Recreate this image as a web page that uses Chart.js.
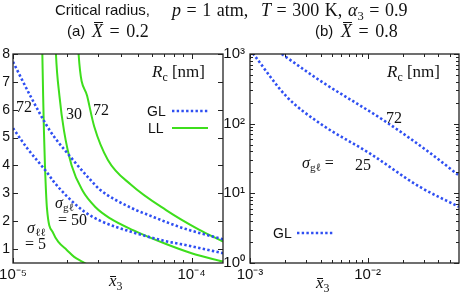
<!DOCTYPE html>
<html>
<head>
<meta charset="utf-8">
<script src="https://cdn.jsdelivr.net/npm/chart.js@4.4.1/dist/chart.umd.min.js"></script>
<style>
  body { margin: 0; background: #fff; }
  #fig { position: relative; width: 460px; height: 294px; overflow: hidden; background: #fff;
         font-family: "Liberation Sans", Arial, sans-serif; color: #111; }
  #fig canvas { position: absolute; top: 0; }
  .t { position: absolute; white-space: nowrap; line-height: 1; }
  .m { font-family: "Liberation Serif", "Times New Roman", serif; }
  .ob { position: relative; font-style: italic; }
  .ob::before { content: ''; position: absolute; left: 2px; right: 0; border-top: 1px solid #111; }
  .ob.cap::before { top: 1px; }
  .ob.low::before { top: 5px; left: 1px; right: 1px; }
  sub { font-size: 70%; vertical-align: -0.3em; line-height: 0; }
</style>
</head>
<body>
<div id="fig">
  <canvas id="cvA" width="232" height="294" style="left:0"></canvas>
  <canvas id="cvB" width="236" height="294" style="left:224px"></canvas>

  <!-- titres -->
  <div class="t" style="left:55px;top:2px;font-size:15px">Critical radius,</div>
  <div class="t m" style="left:172px;top:1px;font-size:18px;word-spacing:1px"><i>p</i> = 1 atm,</div>
  <div class="t m" style="left:261px;top:1px;font-size:18px;word-spacing:1px"><i>T</i> = 300 K,</div>
  <div class="t m" style="left:348px;top:1px;font-size:18px;word-spacing:1px"><i>α</i><sub>3</sub> = 0.9</div>
  <div class="t" style="left:67px;top:23px;font-size:15px">(a)</div>
  <div class="t m" style="left:92px;top:22px;font-size:18px;word-spacing:2px"><span class="ob cap">X</span> = 0.2</div>
  <div class="t" style="left:315px;top:23px;font-size:15px">(b)</div>
  <div class="t m" style="left:341px;top:22px;font-size:18px;word-spacing:2px"><span class="ob cap">X</span> = 0.8</div>

  <!-- panneau (a) -->
  <div class="t m" style="left:152px;top:63px;font-size:17px"><i>R</i><sub>c</sub> [nm]</div>
  <div class="t" style="left:147px;top:104px;font-size:14px">GL</div>
  <div class="t" style="left:148px;top:121px;font-size:14px">LL</div>
  <div class="t m" style="left:16px;top:99px;font-size:16px">72</div>
  <div class="t m" style="left:66px;top:106px;font-size:16px">30</div>
  <div class="t m" style="left:93px;top:102px;font-size:16px">72</div>
  <div class="t m" style="left:55px;top:195px;font-size:16px"><i>σ</i><sub>gℓ</sub></div>
  <div class="t m" style="left:58px;top:212px;font-size:16px">= 50</div>
  <div class="t m" style="left:27px;top:220px;font-size:16px"><i>σ</i><sub>ℓℓ</sub></div>
  <div class="t m" style="left:25px;top:236px;font-size:16px">= 5</div>
  <div class="t m" style="left:109px;top:272px;font-size:17px"><span class="ob low">x</span><sub>3</sub></div>

  <!-- panneau (b) -->
  <div class="t m" style="left:387px;top:63px;font-size:17px"><i>R</i><sub>c</sub> [nm]</div>
  <div class="t m" style="left:386px;top:110px;font-size:16px">72</div>
  <div class="t m" style="left:302px;top:155px;font-size:16px"><i>σ</i><sub>gℓ</sub> =</div>
  <div class="t m" style="left:355px;top:157px;font-size:16px">25</div>
  <div class="t" style="left:273px;top:226px;font-size:14px">GL</div>
  <div class="t m" style="left:316px;top:274px;font-size:17px"><span class="ob low">x</span><sub>3</sub></div>
</div>

<script>
  // ---- (a) X = 0.2 -----------------------------------------------------------
  const xTicksA = [1e-5, 2e-5, 3e-5, 4e-5, 5e-5, 6e-5, 7e-5, 8e-5, 9e-5, 1e-4];
  const yTicksA = [1, 2, 3, 4, 5, 6, 7, 8];

  // GL, sigma_gl = 72 / 50  (pointillés bleus)
  const glA72 = [[1e-5, 7.72], [1.245e-5, 6.52], [1.61e-5, 5.25], [2.09e-5, 4.32], [2.7e-5, 3.5],
                 [3.07e-5, 3.13], [4.52e-5, 2.5], [5.85e-5, 2.2], [8.97e-5, 1.75], [1.5e-4, 1.35]];
  const glA50 = [[1e-5, 5.34], [1.2e-5, 4.62], [1.42e-5, 4.05], [1.55e-5, 3.75], [1.7e-5, 3.4],
                 [2e-5, 2.9], [2.5e-5, 2.35], [3.07e-5, 2.02], [4.7e-5, 1.6], [7e-5, 1.3],
                 [1e-4, 1.1], [1.5e-4, 0.85]];

  // LL, sigma_ll = 5 / 30 / 72  (traits verts)
  const llA5  = [[1.45e-5, 9], [1.46e-5, 8], [1.475e-5, 6.5], [1.49e-5, 5.25], [1.51e-5, 4.0],
                 [1.55e-5, 2.45], [1.68e-5, 1.57], [1.8e-5, 1.25], [2.0e-5, 0.97], [2.2e-5, 0.72],
                 [2.42e-5, 0.56], [2.6e-5, 0.45]];
  const llA30 = [[1.72e-5, 9], [1.74e-5, 8], [1.82e-5, 6.5], [1.93e-5, 5.25], [2.13e-5, 4.0],
                 [2.45e-5, 3.1], [2.9e-5, 2.5], [3.5e-5, 2.1], [4.7e-5, 1.68], [7.2e-5, 1.18],
                 [1e-4, 0.85], [1.5e-4, 0.55]];
  const llA72 = [[2.3e-5, 9], [2.33e-5, 8], [2.6e-5, 6.5], [2.85e-5, 5.4], [3.4e-5, 4.2],
                 [4.6e-5, 3.3], [7.2e-5, 2.4], [1.1e-4, 1.7], [1.5e-4, 1.27]];

  // ---- (b) X = 0.8 -----------------------------------------------------------
  const xTicksB = [1e-3, 2e-3, 3e-3, 4e-3, 5e-3, 6e-3, 7e-3, 8e-3, 9e-3, 1e-2, 2e-2, 3e-2, 4e-2, 5e-2];
  const yTicksB = [1, 2, 3, 4, 5, 6, 7, 8, 9, 10, 20, 30, 40, 50, 60, 70, 80, 90,
                   100, 200, 300, 400, 500, 600, 700, 800, 900, 1000];

  const glB72 = [[1.6e-3, 1190], [1.86e-3, 1000], [3.9e-3, 420], [0.0145, 105], [0.034, 38], [0.06, 18]];
  const glB25 = [[1e-3, 1150], [1.067e-3, 1000], [2.05e-3, 244], [3.93e-3, 101], [0.01046, 37.4],
                 [0.0278, 12.4], [0.06, 6.4]];

  const SANS = '"Liberation Sans", Arial, sans-serif';
  const GL_STYLE = { borderColor: '#2f4ff2', borderWidth: 2.6, borderDash: [2.4, 2.3] };
  const LL_STYLE = { borderColor: '#3ede1c', borderWidth: 2 };
  const SUP = { '-': '⁻', '0': '⁰', '1': '¹', '2': '²', '3': '³', '4': '⁴', '5': '⁵', '6': '⁶', '7': '⁷', '8': '⁸', '9': '⁹' };

  const isDecade = v => Math.abs(Math.log10(v) - Math.round(Math.log10(v))) < 1e-6;
  const powLabel = v => '10' + String(Math.round(Math.log10(v))).split('').map(c => SUP[c]).join('');

  function serie(pts, style) {
    return Object.assign({
      data: pts.map(([x, y]) => ({ x, y })),
      pointRadius: 0, fill: false, clip: 0,
      cubicInterpolationMode: 'monotone',
    }, style);
  }

  function axe(type, min, max, tickVals, horiz, size, pad, fontSize) {
    return {
      type, min, max,
      grid: { display: false, drawTicks: false },
      border: { display: false },
      afterBuildTicks: s => { s.ticks = tickVals.map(v => ({ value: v })); },
      afterFit: s => {
        if (horiz) s.height = size; else s.width = size;
        s.paddingLeft = s.paddingRight = s.paddingTop = s.paddingBottom = 0;
      },
      ticks: {
        autoSkip: false, maxRotation: 0, padding: pad, color: '#111',
        font: { family: SANS, size: fontSize },
        callback: v => type === 'logarithmic' ? (isDecade(v) ? powLabel(v) : '') : String(v),
      },
    };
  }

  // cadre + graduations intérieures sur les 4 côtés, et échantillons de légende
  const cadre = {
    id: 'cadre',
    afterDraw(chart, args, opts) {
      const { ctx, chartArea: a, scales } = chart;
      ctx.save();
      ctx.strokeStyle = '#222';
      ctx.lineWidth = 1;
      ['x', 'y'].forEach(k => {
        const s = scales[k];
        s.ticks.forEach(t => {
          const major = s.type !== 'logarithmic' || isDecade(t.value);
          const len = major ? 5 : 3;
          const p = Math.round(s.getPixelForValue(t.value)) + 0.5;
          ctx.beginPath();
          if (k === 'x') {
            ctx.moveTo(p, a.bottom); ctx.lineTo(p, a.bottom - len);
            ctx.moveTo(p, a.top); ctx.lineTo(p, a.top + len);
          } else {
            ctx.moveTo(a.left, p); ctx.lineTo(a.left + len, p);
            ctx.moveTo(a.right, p); ctx.lineTo(a.right - len, p);
          }
          ctx.stroke();
        });
      });
      ctx.lineWidth = 1.3;
      ctx.strokeRect(a.left, a.top, a.right - a.left, a.bottom - a.top);

      (opts.legende || []).forEach(l => {
        const ds = chart.data.datasets[l.ds];
        ctx.beginPath();
        ctx.strokeStyle = ds.borderColor;
        ctx.lineWidth = ds.borderWidth;
        ctx.setLineDash(ds.borderDash || []);
        ctx.moveTo(l.x1, l.y); ctx.lineTo(l.x2, l.y);
        ctx.stroke();
      });
      ctx.restore();
    },
  };

  function options(xAxis, yAxis, pad, legende) {
    return {
      responsive: false, animation: false, devicePixelRatio: 1,
      layout: { padding: pad },
      plugins: { legend: { display: false }, tooltip: { enabled: false }, cadre: { legende } },
      scales: { x: xAxis, y: yAxis },
    };
  }

  new Chart(document.getElementById('cvA'), {
    type: 'line',
    data: {
      datasets: [
        serie(glA72, GL_STYLE), serie(glA50, GL_STYLE),
        serie(llA5, LL_STYLE), serie(llA30, LL_STYLE), serie(llA72, LL_STYLE),
      ],
    },
    options: options(
      axe('logarithmic', 1e-5, 1.5e-4, xTicksA, true, 31, 3, 15),
      axe('linear', 0.5, 8, yTicksA, false, 13, 3, 14),
      { top: 54, right: 9, left: 0, bottom: 0 },
      [{ ds: 0, x1: 172, x2: 208, y: 111 }, { ds: 2, x1: 172, x2: 208, y: 128 }]
    ),
    plugins: [cadre],
  });

  new Chart(document.getElementById('cvB'), {
    type: 'line',
    data: { datasets: [serie(glB72, GL_STYLE), serie(glB25, GL_STYLE)] },
    options: options(
      axe('logarithmic', 1e-3, 0.06, xTicksB, true, 31, 3, 15),
      axe('logarithmic', 1, 1000, yTicksB, false, 26, 5, 15),
      { top: 54, right: 1, left: 0, bottom: 0 },
      [{ ds: 0, x1: 73, x2: 110, y: 233 }]
    ),
    plugins: [cadre],
  });
</script>
</body>
</html>
